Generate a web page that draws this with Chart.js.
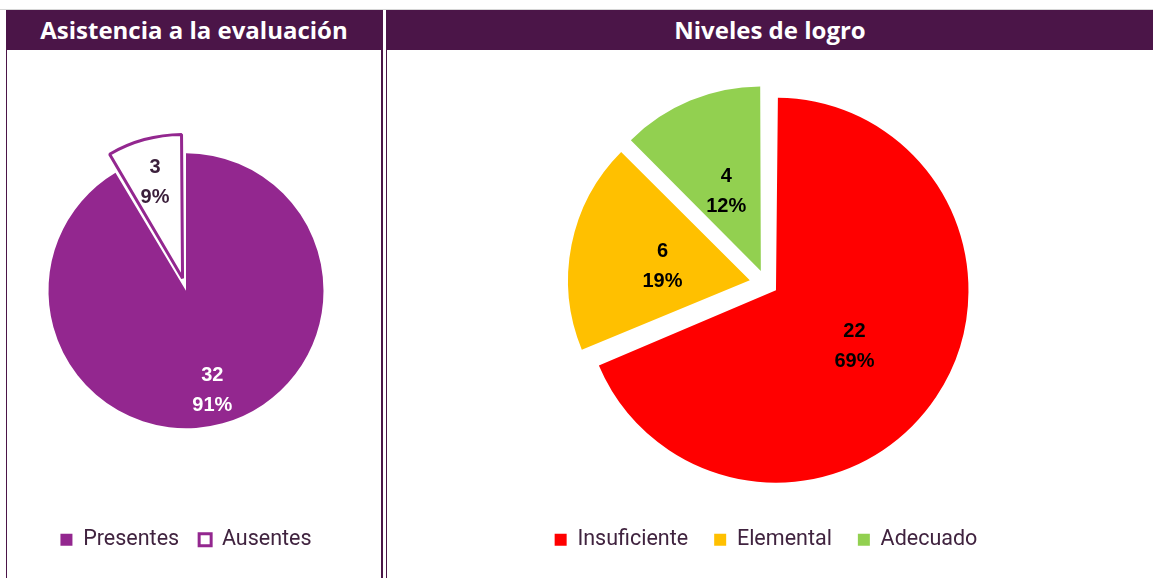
<!DOCTYPE html>
<html>
<head>
<meta charset="utf-8">
<script src="https://cdn.jsdelivr.net/npm/chart.js@4.4.1/dist/chart.umd.min.js"></script>
<style>
  html, body { margin: 0; padding: 0; background: #fff; }
  body { width: 1153px; height: 578px; position: relative; overflow: hidden; }
  .linea { position: absolute; left: 0; top: 9px; width: 1153px; height: 1px; background: #d6d6d6; }
  .panel { position: absolute; top: 10px; height: 600px; box-sizing: border-box; }
  .cabecera { height: 40px; background: #4b1548; color: #fff;
              font: bold 24px "Open Sans", sans-serif; line-height: 40px; text-align: center; }
  .lienzo { position: absolute; top: 51px; height: 527px; }
</style>
</head>
<body>
<div class="linea"></div>
<div class="panel" style="left:6px; width:377px; border-left:1px solid #4b1548; border-right:2px solid #4b1548;">
  <div class="cabecera">Asistencia a la evaluación</div>
</div>
<div class="panel" style="left:386px; width:767px; border-left:1px solid #4b1548;">
  <div class="cabecera">Niveles de logro</div>
</div>
<div class="lienzo" style="left:7px; width:374px;"><canvas id="graficoAsistencia"></canvas></div>
<div class="lienzo" style="left:387px; width:766px;"><canvas id="graficoLogro"></canvas></div>

<script>
// Datos
const asistenciaCategorias = ['Presentes', 'Ausentes'];
const asistenciaValores = [32, 3];
const asistenciaPct = ['91%', '9%'];

const logroCategorias = ['Insuficiente', 'Elemental', 'Adecuado'];
const logroValores = [22, 6, 4];
const logroPct = ['69%', '19%', '12%'];

// Etiquetas dentro de cada porción (valor y porcentaje)
const etiquetasPlugin = {
    id: 'etiquetas',
    afterDatasetsDraw(chart, args, opts) {
        const ctx = chart.ctx;
        const meta = chart.getDatasetMeta(0);
        const valores = chart.data.datasets[0].data;
        meta.data.forEach((arc, i) => {
            const p = arc.getProps(['x', 'y', 'startAngle', 'endAngle', 'outerRadius', 'circumference']);
            const off = (arc.options.offset || 0) / 4;
            const medio = (p.startAngle + p.endAngle) / 2;
            const fix = 1 - Math.sin(Math.min(Math.PI, p.circumference));
            const radio = p.outerRadius + off * fix;
            const d = off + opts.factor * radio;
            const x = p.x + Math.cos(medio) * d;
            const y = p.y + Math.sin(medio) * d + 4;
            ctx.save();
            ctx.font = 'bold 20px "Liberation Sans", Arial, sans-serif';
            ctx.fillStyle = opts.colores[i];
            ctx.textAlign = 'center';
            ctx.textBaseline = 'middle';
            ctx.fillText(String(valores[i]), x, y - 15);
            ctx.fillText(opts.pct[i], x, y + 15);
            ctx.restore();
        });
    }
};

const leyendaFuente = { family: 'Roboto', size: 21.5 };

new Chart(document.getElementById('graficoAsistencia'), {
    type: 'pie',
    data: {
        labels: asistenciaCategorias,
        datasets: [{
            data: asistenciaValores,
            backgroundColor: ['#93278f', '#ffffff'],
            borderColor: ['#93278f', '#93278f'],
            borderWidth: [0, 3],
            offset: [0, 52],
            radius: 137.5
        }]
    },
    options: {
        responsive: true,
        maintainAspectRatio: false,
        animation: false,
        layout: { padding: { top: 21.5, right: 16, bottom: 17.5, left: 0 } },
        plugins: {
            legend: {
                position: 'bottom',
                labels: { boxWidth: 12, boxHeight: 12, padding: 20, color: '#40233f', font: leyendaFuente }
            },
            tooltip: { enabled: false },
            etiquetas: { factor: 0.72, colores: ['#ffffff', '#3b1f3b'], pct: asistenciaPct }
        }
    },
    plugins: [etiquetasPlugin]
});

new Chart(document.getElementById('graficoLogro'), {
    type: 'pie',
    data: {
        labels: logroCategorias,
        datasets: [{
            data: logroValores,
            backgroundColor: ['#ff0000', '#ffc000', '#92d050'],
            borderWidth: 0,
            offset: [48, 66, 54],
            radius: 180.5
        }]
    },
    options: {
        responsive: true,
        maintainAspectRatio: false,
        animation: false,
        layout: { padding: { top: 13, right: 8, bottom: 17.5, left: 0 } },
        plugins: {
            legend: {
                position: 'bottom',
                labels: { boxWidth: 12, boxHeight: 12, padding: 26, color: '#40233f', font: leyendaFuente }
            },
            tooltip: { enabled: false },
            etiquetas: { factor: 0.49, colores: ['#000000', '#000000', '#000000'], pct: logroPct }
        }
    },
    plugins: [etiquetasPlugin]
});
</script>
</body>
</html>
